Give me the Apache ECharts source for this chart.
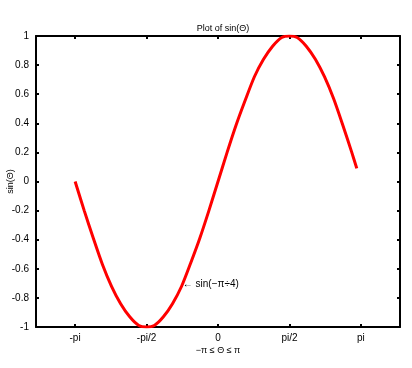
<!DOCTYPE html>
<html>
<head>
<meta charset="utf-8">
<title>Plot of sin(Θ)</title>
<script src="https://cdn.jsdelivr.net/npm/echarts@6/dist/echarts.min.js"></script>
<style>
  html, body { margin: 0; padding: 0; background: #fff; }
  #chart { width: 412px; height: 368px; }
</style>
</head>
<body>
<div id="chart"></div>
<script>
// values
var theta = [-3.14, -2.94, -2.74, -2.54, -2.34, -2.14, -1.94, -1.74, -1.57, -1.40, -1.20,
             -1.00, -0.80, -0.60, -0.40, -0.20, 0, 0.20, 0.40, 0.60, 0.80, 1.00,
             1.20, 1.40, 1.57, 1.74, 1.94, 2.14, 2.34, 2.54, 2.74, 2.94, 3.05];
var sinVals = [0, -0.20, -0.39, -0.57, -0.72, -0.84, -0.93, -0.99, -1.00, -0.99, -0.93,
               -0.84, -0.72, -0.56, -0.39, -0.20, 0, 0.20, 0.39, 0.56, 0.72, 0.84,
               0.93, 0.99, 1.00, 0.99, 0.93, 0.84, 0.72, 0.57, 0.39, 0.20, 0.09];
var xTicks = [-Math.PI, -Math.PI / 2, 0, Math.PI / 2, Math.PI];
var xTickLabels = ['-pi', '-pi/2', '0', 'pi/2', 'pi'];
var notePoint = [-Math.PI / 4, -0.707];
var noteText = '\u2190 sin(\u2212\u03c0\u00f74)';

var chart = echarts.init(document.getElementById('chart'));

var font = 'Liberation Sans, Arial, sans-serif';
var lineStyle = { color: '#000', width: 2 };

function xLabel(v) {
    for (var i = 0; i < xTicks.length; i++) {
        if (Math.abs(xTicks[i] - v) < 1e-6) return xTickLabels[i];
    }
    return '';
}

chart.setOption({
    animation: false,
    title: {
        text: 'Plot of sin(\u0398)',
        left: 218,
        textAlign: 'center',
        top: 19,
        textStyle: { fontFamily: font, fontSize: 9, fontWeight: 'normal', color: '#000' }
    },
    grid: { left: 36, right: 12, top: 36, bottom: 41, containLabel: false, outerBoundsMode: 'none' },
    xAxis: [{
        type: 'value',
        min: -4,
        max: 4,
        name: '\u2212\u03c0 \u2264 \u0398 \u2264 \u03c0',
        nameLocation: 'middle',
        nameGap: 19,
        nameMoveOverlap: false,
        nameTextStyle: { fontFamily: font, fontSize: 9, color: '#000' },
        axisLine: { onZero: false, lineStyle: lineStyle },
        axisTick: { inside: true, length: 3, customValues: xTicks, lineStyle: { color: '#000', width: 2 } },
        axisLabel: {
            customValues: xTicks,
            formatter: xLabel,
            fontFamily: font, fontSize: 10, color: '#000', margin: 6
        },
        splitLine: { show: false }
    }, {
        type: 'value',
        position: 'top',
        min: -4,
        max: 4,
        axisLine: { onZero: false, lineStyle: lineStyle },
        axisTick: { inside: true, length: 3, customValues: xTicks, lineStyle: { color: '#000', width: 2 } },
        axisLabel: { show: false },
        splitLine: { show: false }
    }],
    yAxis: [{
        type: 'value',
        min: -1,
        max: 1,
        interval: 0.2,
        name: 'sin(\u0398)',
        nameLocation: 'middle',
        nameGap: 21,
        nameMoveOverlap: false,
        nameTextStyle: { fontFamily: font, fontSize: 9, color: '#000' },
        axisLine: { onZero: false, lineStyle: lineStyle },
        axisTick: { inside: true, length: 3, lineStyle: { color: '#000', width: 2 } },
        axisLabel: {
            formatter: function (v) { return String(Math.round(v * 10) / 10); },
            fontFamily: font, fontSize: 10, color: '#000', margin: 7
        },
        splitLine: { show: false }
    }, {
        type: 'value',
        position: 'right',
        min: -1,
        max: 1,
        interval: 0.2,
        axisLine: { onZero: false, lineStyle: lineStyle },
        axisTick: { inside: true, length: 3, lineStyle: { color: '#000', width: 2 } },
        axisLabel: { show: false },
        splitLine: { show: false }
    }],
    series: [{
        type: 'line',
        data: theta.map(function (t, i) { return [t, sinVals[i]]; }),
        showSymbol: false,
        smooth: 0.25,
        lineStyle: { color: '#ff0000', width: 3 },
        markPoint: {
            symbol: 'circle',
            symbolSize: 1,
            itemStyle: { color: 'rgba(0,0,0,0)' },
            label: {
                show: true,
                position: 'right',
                distance: 0,
                formatter: noteText,
                fontFamily: font, fontSize: 10, color: '#000'
            },
            data: [{ coord: notePoint }]
        }
    }]
});
</script>
</body>
</html>
